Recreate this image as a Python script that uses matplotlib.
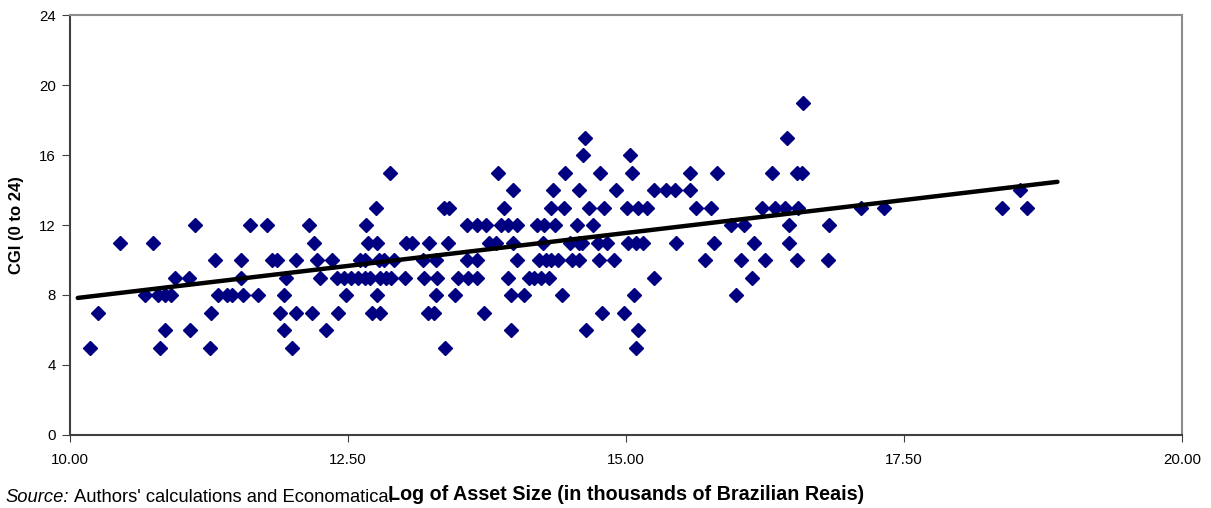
import numpy as np
import matplotlib
matplotlib.use("Agg")
import matplotlib.pyplot as plt

plt.rcParams['font.family'] = ['Liberation Sans', 'DejaVu Sans']

# asset size (log) of the firms, grouped by their CGI score
x_cgi5 = [10.18, 10.81, 11.26, 12.00, 13.37, 15.09]
x_cgi6 = [10.85, 11.08, 11.92, 12.30, 13.97, 14.64, 15.11]
x_cgi7 = [10.25, 11.27, 11.89, 12.03, 12.18, 12.41, 12.72, 12.79, 13.22, 13.27,
          13.72, 14.78, 14.98]
x_cgi8 = [10.67, 10.79, 10.85, 10.91, 11.33, 11.41, 11.46, 11.56, 11.69, 11.92,
          12.48, 12.76, 13.29, 13.46, 13.97, 14.08, 14.42, 15.07, 15.99]
x_cgi9 = [10.94, 11.07, 11.54, 11.94, 12.25, 12.40, 12.46, 12.53, 12.59, 12.65,
          12.70, 12.79, 12.84, 12.89, 13.01, 13.18, 13.30, 13.49, 13.58, 13.66,
          13.94, 14.13, 14.17, 14.24, 14.31, 15.25, 16.13]
x_cgi10 = [11.30, 11.54, 11.82, 11.86, 12.03, 12.22, 12.36, 12.61, 12.65, 12.78,
           12.82, 12.91, 13.17, 13.29, 13.57, 13.66, 14.02, 14.22, 14.28, 14.33,
           14.39, 14.51, 14.58, 14.76, 14.89, 15.71, 16.03, 16.25, 16.54, 16.82]
x_cgi11 = [10.45, 10.75, 12.19, 12.68, 12.76, 13.02, 13.08, 13.23, 13.40, 13.77,
           13.83, 13.98, 14.25, 14.50, 14.58, 14.60, 14.75, 14.83, 15.02, 15.09,
           15.15, 15.45, 15.79, 16.15, 16.47]
x_cgi12 = [11.12, 11.62, 11.77, 12.15, 12.66, 13.57, 13.66, 13.74, 13.88, 13.94,
           14.02, 14.20, 14.26, 14.36, 14.56, 14.70, 15.94, 16.06, 16.47, 16.83]
x_cgi13 = [12.75, 13.36, 13.41, 13.90, 14.33, 14.44, 14.67, 14.80, 15.01, 15.11,
           15.19, 15.63, 15.76, 16.22, 16.34, 16.43, 16.55, 17.11, 17.32, 18.38,
           18.61]
x_cgi14 = [13.98, 14.34, 14.58, 14.91, 15.25, 15.36, 15.44, 15.58, 18.54]
x_cgi15 = [12.88, 13.85, 14.45, 14.77, 15.05, 15.58, 15.82, 16.31, 16.54, 16.58]
x_cgi16 = [14.61, 15.04]
x_cgi17 = [14.63, 16.45]
x_cgi19 = [16.59]

groups = {5: x_cgi5, 6: x_cgi6, 7: x_cgi7, 8: x_cgi8, 9: x_cgi9, 10: x_cgi10,
          11: x_cgi11, 12: x_cgi12, 13: x_cgi13, 14: x_cgi14, 15: x_cgi15,
          16: x_cgi16, 17: x_cgi17, 19: x_cgi19}

# linear trend as drawn in the source chart
trend_x = [10.07, 18.88]
trend_slope = 0.753
trend_intercept = 0.25

x_ticks = [10.0, 12.5, 15.0, 17.5, 20.0]
y_ticks = [0, 4, 8, 12, 16, 20, 24]

size = np.concatenate([np.array(v) for v in groups.values()])
cgi = np.concatenate([np.full(len(v), k) for k, v in groups.items()])

fig = plt.figure(figsize=(12.11, 5.08), dpi=100)
ax = fig.add_axes([70 / 1211, 73 / 508, 1112 / 1211, 420 / 508])

ax.plot(size, cgi, linestyle='none', marker='D', markersize=7.2,
        color='#000080', markeredgecolor='#000080')

tx = np.array(trend_x)
ax.plot(tx, trend_intercept + trend_slope * tx, color='black', lw=3.2,
        solid_capstyle='round')

ax.set_xlim(10, 20)
ax.set_ylim(0, 24)
ax.set_xticks(x_ticks)
ax.set_xticklabels(['%.2f' % v for v in x_ticks])
ax.set_yticks(y_ticks)
ax.tick_params(axis='x', direction='out', length=5, pad=8, labelsize=10.8,
               color='#404040')
ax.tick_params(axis='y', direction='out', length=6, pad=4, labelsize=10.8,
               color='#404040')

for side in ['left', 'bottom']:
    ax.spines[side].set_color('#404040')
    ax.spines[side].set_linewidth(1.5)
for side in ['top', 'right']:
    ax.spines[side].set_color('#8c8c8c')
    ax.spines[side].set_linewidth(1.5)

fig.text(17 / 1211, 1 - 225 / 508, 'CGI (0 to 24)', rotation=90,
         ha='center', va='center', fontweight='bold', fontsize=12)

fig.text(626 / 1211, 1 - 494 / 508,
         'Log of Asset Size (in thousands of Brazilian Reais)',
         ha='center', va='center', fontweight='bold', fontsize=14.2)

src = fig.text(5 / 1211, 1 - 498 / 508, 'Source:', style='italic',
               ha='left', va='center', fontsize=13.2)
fig.canvas.draw()
bb = src.get_window_extent()
fig.text(bb.x1 / 1211 + 5 / 1211, 1 - 498 / 508,
         "Authors' calculations and Economatica.",
         ha='left', va='center', fontsize=13.2)

fig.savefig('out.png', dpi=100)
